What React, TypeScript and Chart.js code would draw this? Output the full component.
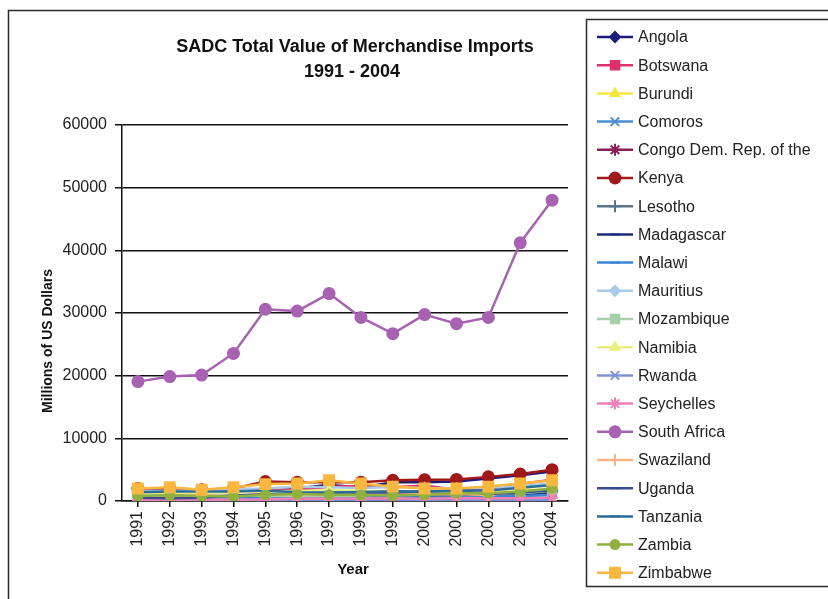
import React, { useEffect, useRef } from 'react';
import { Chart, registerables } from 'chart.js';
import { drawPoint } from 'chart.js/helpers';

Chart.register(...registerables);

const TITLE_LINES = ['SADC Total Value of Merchandise Imports', '1991 - 2004'];
const Y_TITLE = 'Millions of US Dollars';
const X_TITLE = 'Year';

const years = ['1991', '1992', '1993', '1994', '1995', '1996', '1997', '1998', '1999', '2000', '2001', '2002', '2003', '2004'];

const angola = [1400, 1900, 1500, 1500, 1900, 2000, 2600, 2100, 3000, 3000, 3100, 3600, 4100, 4700];
const botswana = [1900, 1850, 1780, 1640, 1910, 1720, 2260, 2390, 2200, 2470, 1790, 1990, 2730, 3380];
const burundi = [250, 220, 200, 220, 230, 130, 120, 160, 120, 150, 140, 130, 160, 180];
const comoros = [60, 70, 55, 50, 60, 55, 50, 45, 50, 55, 60, 70, 90, 110];
const congo = [700, 800, 600, 600, 870, 800, 800, 700, 550, 700, 800, 1100, 1400, 1700];
const kenya = [2000, 2000, 1800, 2000, 3100, 3000, 3000, 3000, 3300, 3400, 3450, 3850, 4300, 5000];
const lesotho = [930, 940, 870, 800, 985, 1000, 1020, 870, 780, 730, 680, 760, 1100, 1410];
const madagascar = [450, 470, 450, 550, 630, 630, 700, 700, 750, 1000, 950, 600, 1100, 1300];
const malawi = [700, 730, 545, 490, 475, 620, 780, 520, 670, 530, 560, 700, 790, 930];
const mauritius = [1600, 1620, 1700, 1930, 1980, 2290, 2180, 2070, 2250, 2090, 1990, 2160, 2400, 2800];
const mozambique = [900, 850, 950, 1000, 780, 780, 760, 820, 1200, 1160, 1060, 1260, 1240, 1630];
const namibia = [1200, 1300, 1300, 1400, 1550, 1600, 1750, 1600, 1600, 1550, 1600, 1500, 2000, 2500];
const rwanda = [300, 290, 330, 120, 240, 250, 290, 290, 250, 210, 250, 200, 250, 290];
const seychelles = [170, 190, 240, 200, 230, 380, 340, 380, 430, 340, 480, 420, 420, 500];
const southAfrica = [19050, 19850, 20100, 23550, 30600, 30300, 33100, 29300, 26700, 29750, 28300, 29300, 41200, 48000];
const swaziland = [700, 800, 850, 850, 1100, 1050, 1100, 1100, 1100, 1050, 1100, 950, 1500, 1900];
const uganda = [500, 450, 500, 870, 1060, 1190, 1320, 1410, 1340, 1500, 1580, 1110, 1370, 1720];
const tanzania = [1400, 1500, 1500, 1500, 1680, 1390, 1340, 1450, 1550, 1520, 1660, 1660, 2130, 2560];
const zambia = [800, 900, 800, 700, 1000, 1100, 1000, 970, 860, 980, 1250, 1250, 1500, 2000];
const zimbabwe = [2000, 2200, 1800, 2200, 2700, 2800, 3300, 2800, 2300, 2000, 2000, 2300, 2800, 3300];

const seriesNames = ['Angola', 'Botswana', 'Burundi', 'Comoros', 'Congo Dem. Rep. of the', 'Kenya', 'Lesotho', 'Madagascar', 'Malawi', 'Mauritius', 'Mozambique', 'Namibia', 'Rwanda', 'Seychelles', 'South Africa', 'Swaziland', 'Uganda', 'Tanzania', 'Zambia', 'Zimbabwe'];
const seriesValues = [angola, botswana, burundi, comoros, congo, kenya, lesotho, madagascar, malawi, mauritius, mozambique, namibia, rwanda, seychelles, southAfrica, swaziland, uganda, tanzania, zambia, zimbabwe];
const seriesColors = ['#1c1c78', '#e0306a', '#f0e840', '#4a8ed0', '#8a2058', '#a01818', '#5a7488', '#1e2c78', '#3a86d4', '#a8cce8', '#a8d0a8', '#e8f080', '#8090d8', '#f080b4', '#a862b2', '#f8b488', '#3a4c90', '#2c6c9c', '#90b040', '#f8b840'];
const seriesMarkers = ['rectRot', 'rect', 'triangle', 'crossRot', 'star', 'circle', 'cross', 'line', 'line', 'rectRot', 'rect', 'triangle', 'crossRot', 'star', 'circle', 'cross', 'line', 'line', 'circle', 'rect'];
const seriesRadius = [5, 6, 5, 6, 6, 5.5, 6, 5, 5, 5, 6, 5, 6, 6, 5.5, 6, 5, 5, 4.5, 7];

const FONT = '"Liberation Sans", Arial, sans-serif';

const decorPlugin = {
  id: 'decor',
  afterDraw(chart: any) {
    const ctx = chart.ctx as CanvasRenderingContext2D;
    ctx.save();
    // outer border
    ctx.strokeStyle = '#2a2a2a';
    ctx.lineWidth = 1.5;
    ctx.beginPath();
    ctx.moveTo(8.5, 599);
    ctx.lineTo(8.5, 10.5);
    ctx.lineTo(828, 10.5);
    ctx.stroke();

    // title
    ctx.fillStyle = '#111';
    ctx.textAlign = 'center';
    ctx.textBaseline = 'alphabetic';
    ctx.font = `bold 18px ${FONT}`;
    ctx.fillText(TITLE_LINES[0], 355, 52);
    ctx.fillText(TITLE_LINES[1], 352, 77);

    // y title
    ctx.save();
    ctx.translate(48, 341);
    ctx.rotate(-Math.PI / 2);
    ctx.font = `bold 14px ${FONT}`;
    ctx.textBaseline = 'middle';
    ctx.fillText(Y_TITLE, 0, 0);
    ctx.restore();

    // x title
    ctx.font = `bold 15px ${FONT}`;
    ctx.textBaseline = 'middle';
    ctx.fillText(X_TITLE, 353, 570);

    // legend box
    ctx.strokeStyle = '#2a2a2a';
    ctx.lineWidth = 1.5;
    ctx.strokeRect(586.5, 19.5, 260, 567);

    ctx.textAlign = 'left';
    ctx.textBaseline = 'middle';
    ctx.font = `16px ${FONT}`;
    chart.data.datasets.forEach((ds: any, i: number) => {
      const y = 37 + i * 28.2;
      ctx.strokeStyle = ds.borderColor;
      ctx.lineWidth = 2.5;
      ctx.beginPath();
      ctx.moveTo(597, y);
      ctx.lineTo(633, y);
      ctx.stroke();
      ctx.fillStyle = ds.pointBackgroundColor;
      ctx.strokeStyle = ds.pointBorderColor;
      ctx.lineWidth = ds.pointBorderWidth;
      drawPoint(ctx, { pointStyle: ds.pointStyle, radius: ds.pointRadius, rotation: 0, borderWidth: ds.pointBorderWidth }, 615, y);
      ctx.fillStyle = '#222';
      ctx.fillText(ds.label, 638, y + 1);
    });
    ctx.restore();
  },
};

export default function App() {
  const canvasRef = useRef<HTMLCanvasElement | null>(null);

  useEffect(() => {
    const canvas = canvasRef.current;
    if (!canvas) return;
    const datasets = seriesNames.map((name, i) => ({
      label: name,
      data: seriesValues[i],
      borderColor: seriesColors[i],
      backgroundColor: seriesColors[i],
      pointBackgroundColor: seriesColors[i],
      pointBorderColor: seriesColors[i],
      pointStyle: seriesMarkers[i],
      pointRadius: seriesRadius[i],
      pointBorderWidth: 2,
      borderWidth: 2.5,
      tension: 0,
      order: 20 - i,
    }));
    const chart = new Chart(canvas, {
      type: 'line',
      data: { labels: years, datasets },
      options: {
        responsive: false,
        animation: false,
        layout: { padding: { left: 8, top: 125, right: 260, bottom: 0 } },
        plugins: {
          legend: { display: false },
          title: { display: false },
          tooltip: { enabled: false },
        },
        scales: {
          x: {
            type: 'category',
            offset: true,
            grid: { display: true, drawOnChartArea: false, drawTicks: true, tickLength: 6, color: '#111', lineWidth: 1.5 },
            border: { display: true, color: '#111', width: 1.5 },
            ticks: {
              minRotation: 90,
              maxRotation: 90,
              autoSkip: false,
              padding: 4,
              color: '#222',
              font: { family: FONT, size: 16 },
            },
            afterFit: (scale: any) => { scale.height = 98; },
          },
          y: {
            min: 0,
            max: 60000,
            ticks: {
              stepSize: 10000,
              color: '#222',
              padding: 8,
              font: { family: FONT, size: 16 },
              callback: (v: any) => String(v),
            },
            grid: { color: '#111', lineWidth: 1.5, tickLength: 7 },
            border: { display: true, color: '#111', width: 1.5 },
            afterFit: (scale: any) => { scale.width = 114; },
          },
        },
      },
      plugins: [decorPlugin],
    });
    return () => chart.destroy();
  }, []);

  return (
    <div style={{ position: 'absolute', left: 0, top: 0, width: 828, height: 599, background: '#fff' }}>
      <canvas ref={canvasRef} width={828} height={599} />
    </div>
  );
}
